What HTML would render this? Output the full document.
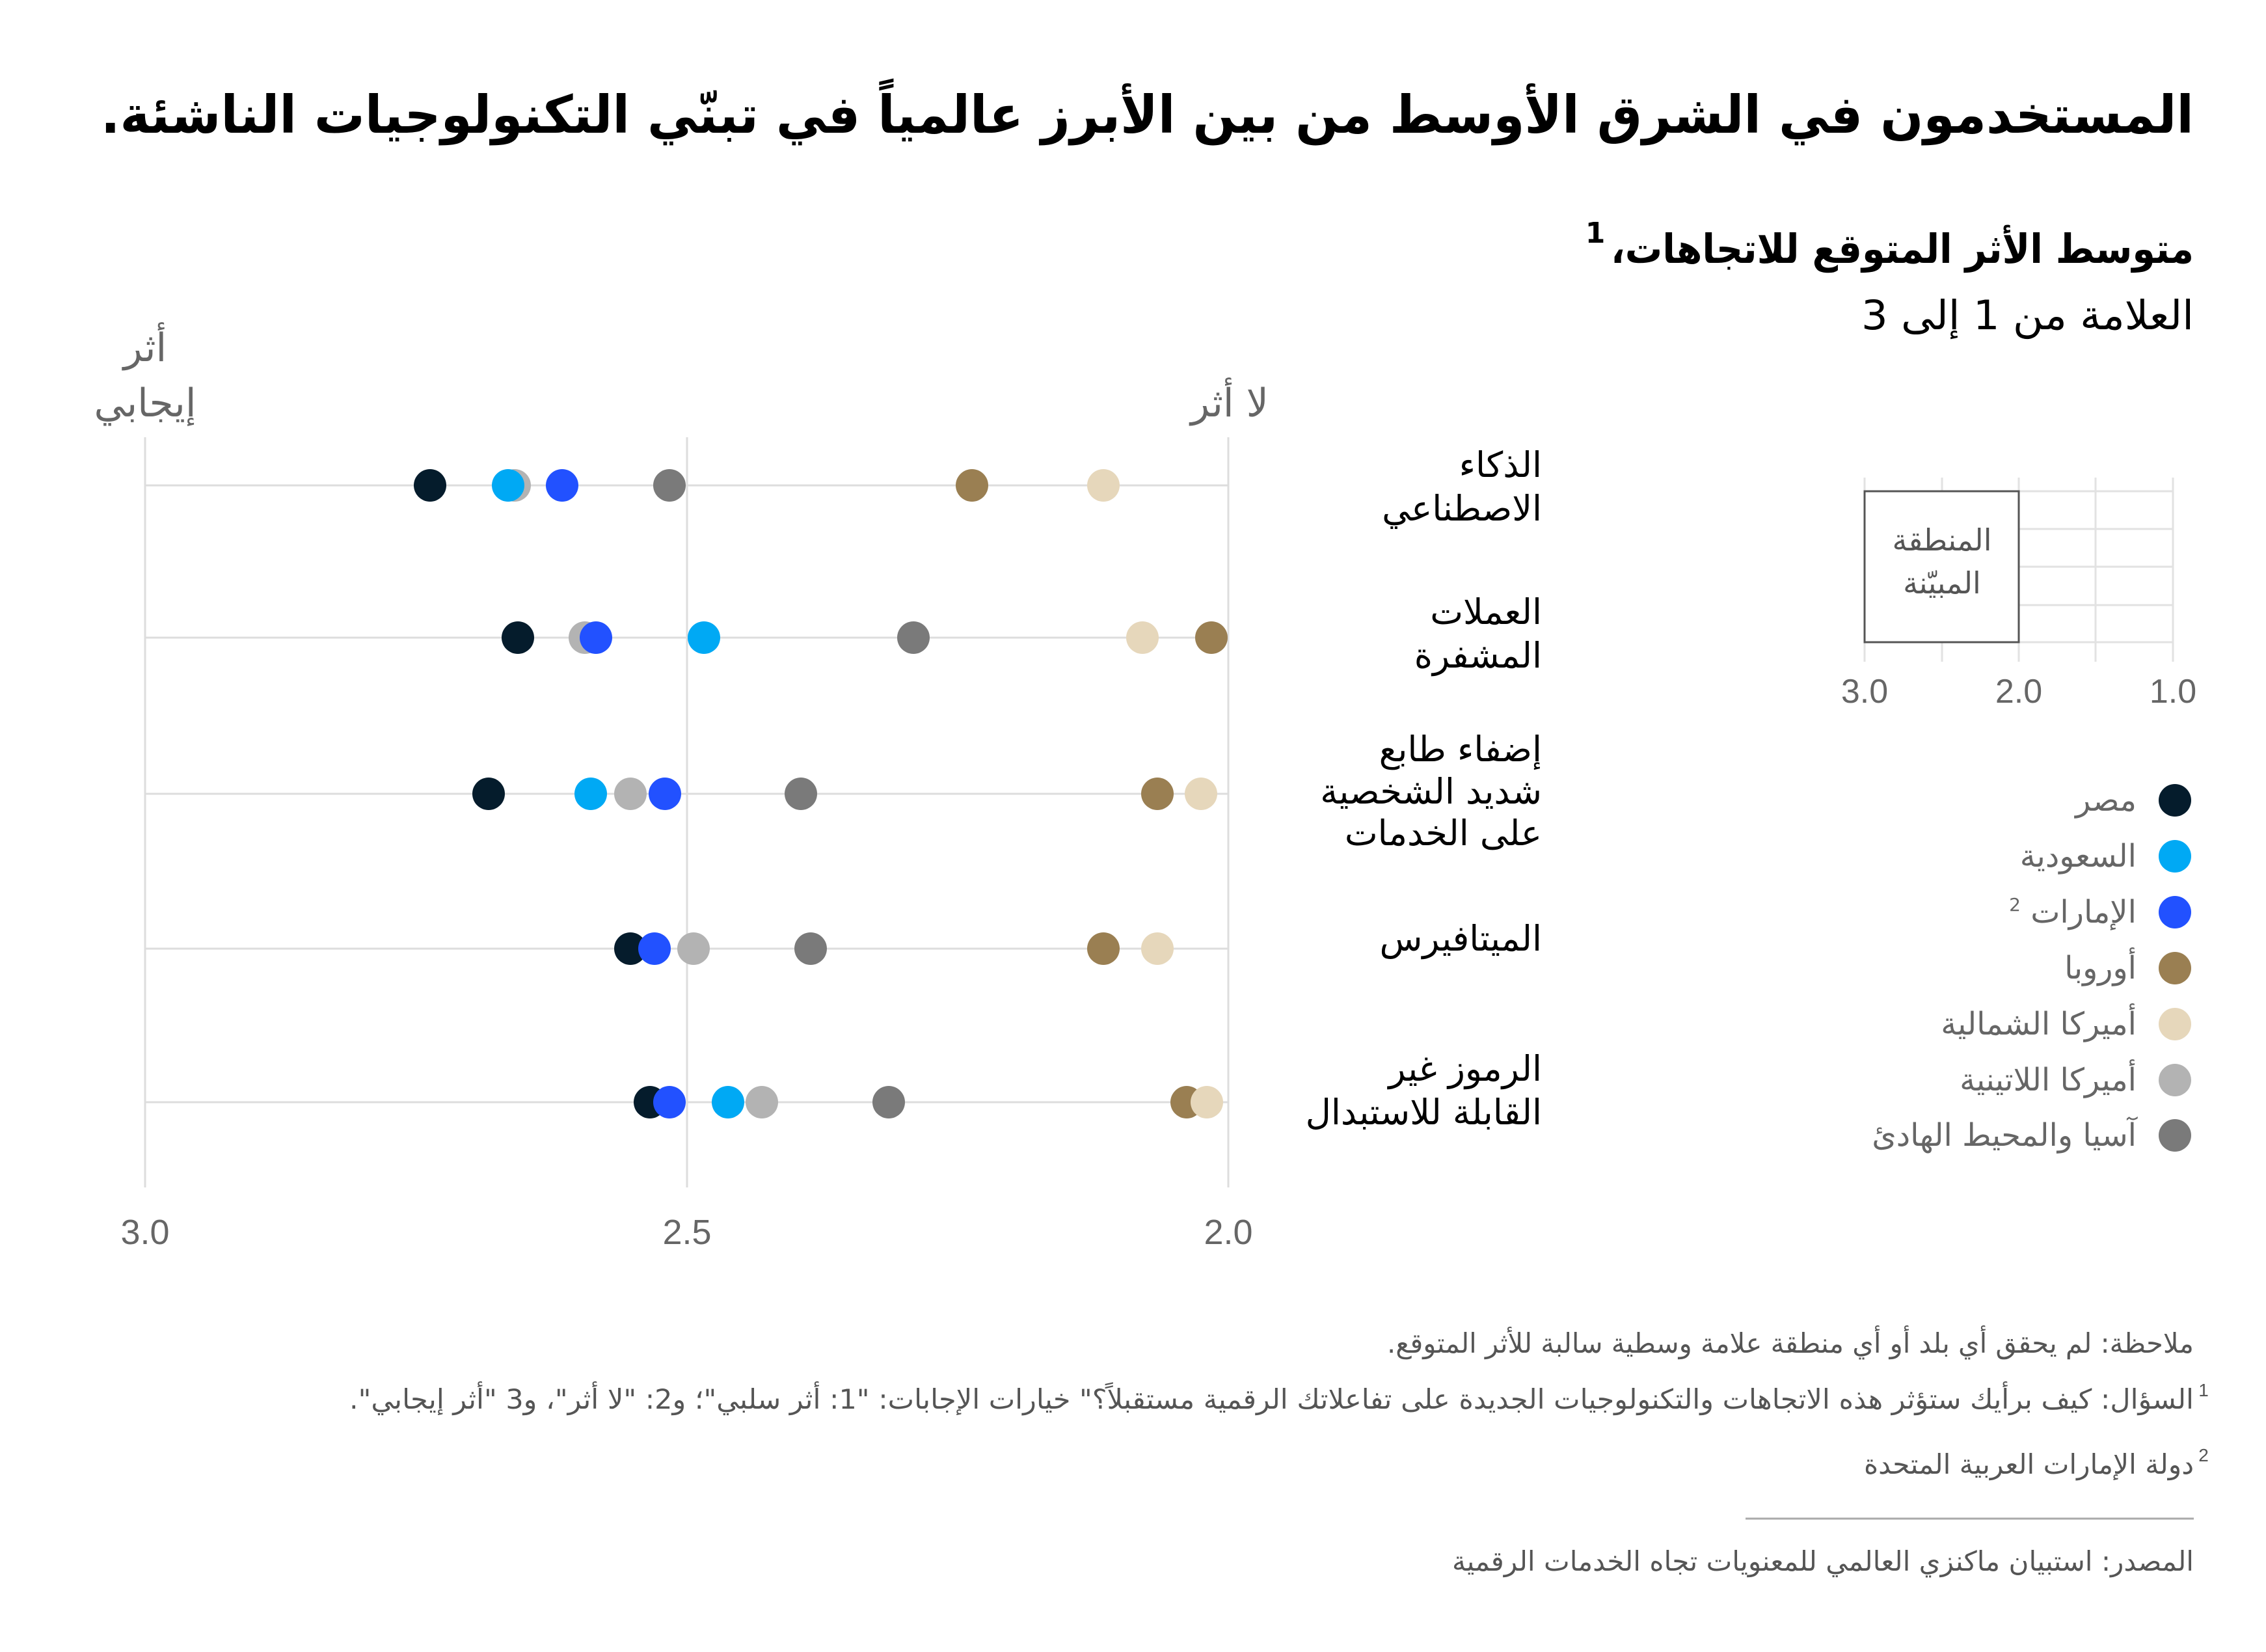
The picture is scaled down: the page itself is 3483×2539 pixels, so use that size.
<!DOCTYPE html>
<html><head><meta charset="utf-8">
<style>
body{margin:0;width:3483px;height:2539px;background:#fff;overflow:hidden}
</style></head><body>
<svg style="position:absolute;left:0;top:0" width="3483" height="2539" font-family="DejaVu Sans, Liberation Sans, sans-serif">
<text x="3372" y="204" direction="rtl" text-anchor="start" font-size="80" font-weight="bold" textLength="3217" lengthAdjust="spacingAndGlyphs">المستخدمون في الشرق الأوسط من بين الأبرز عالمياً في تبنّي التكنولوجيات الناشئة.</text>
<text x="3372" y="404" direction="rtl" text-anchor="start" font-size="62" font-weight="bold" textLength="896" lengthAdjust="spacingAndGlyphs">متوسط الأثر المتوقع للاتجاهات،</text>
<text x="2452" y="373" text-anchor="middle" font-size="44" font-weight="bold">1</text>
<text x="3372" y="506" direction="rtl" text-anchor="start" font-size="62" textLength="511" lengthAdjust="spacingAndGlyphs">العلامة من 1 إلى 3</text>

<g stroke="#ddd" stroke-width="3">
<line x1="223" y1="672" x2="223" y2="1825"/><line x1="1056" y1="672" x2="1056" y2="1825"/><line x1="1888" y1="672" x2="1888" y2="1825"/>
<line x1="223" y1="746" x2="1888" y2="746"/><line x1="223" y1="980" x2="1888" y2="980"/><line x1="223" y1="1220" x2="1888" y2="1220"/><line x1="223" y1="1458" x2="1888" y2="1458"/><line x1="223" y1="1694" x2="1888" y2="1694"/>
</g>
<g font-size="54" fill="#666" text-anchor="middle" font-family="Liberation Sans, sans-serif">
<text x="223" y="1912">3.0</text><text x="1056" y="1912">2.5</text><text x="1888" y="1912">2.0</text>
</g>
<g font-size="60" fill="#666" text-anchor="middle">
<text x="223" y="555" direction="rtl">أثر</text>
<text x="223" y="640" direction="rtl">إيجابي</text>
<text x="1890" y="640" direction="rtl">لا أثر</text>
</g>
<g>
<circle cx="1029" cy="746" r="25" fill="#7a7a7a"/><circle cx="1696" cy="746" r="25" fill="#e6d7bb"/><circle cx="1494" cy="746" r="25" fill="#9a7f52"/><circle cx="791" cy="746" r="25" fill="#b3b3b3"/><circle cx="781" cy="746" r="25" fill="#00a9f4"/><circle cx="864" cy="746" r="25" fill="#2251ff"/><circle cx="661" cy="746" r="25" fill="#051c2c"/>
<circle cx="1404" cy="980" r="25" fill="#7a7a7a"/><circle cx="1756" cy="980" r="25" fill="#e6d7bb"/><circle cx="1862" cy="980" r="25" fill="#9a7f52"/><circle cx="899" cy="980" r="25" fill="#b3b3b3"/><circle cx="916" cy="980" r="25" fill="#2251ff"/><circle cx="1082" cy="980" r="25" fill="#00a9f4"/><circle cx="796" cy="980" r="25" fill="#051c2c"/>
<circle cx="1231" cy="1220" r="25" fill="#7a7a7a"/><circle cx="1846" cy="1220" r="25" fill="#e6d7bb"/><circle cx="1779" cy="1220" r="25" fill="#9a7f52"/><circle cx="969" cy="1220" r="25" fill="#b3b3b3"/><circle cx="908" cy="1220" r="25" fill="#00a9f4"/><circle cx="1022" cy="1220" r="25" fill="#2251ff"/><circle cx="751" cy="1220" r="25" fill="#051c2c"/>
<circle cx="1246" cy="1458" r="25" fill="#7a7a7a"/><circle cx="1779" cy="1458" r="25" fill="#e6d7bb"/><circle cx="1696" cy="1458" r="25" fill="#9a7f52"/><circle cx="1066" cy="1458" r="25" fill="#b3b3b3"/><circle cx="969" cy="1458" r="25" fill="#051c2c"/><circle cx="1006" cy="1458" r="25" fill="#2251ff"/>
<circle cx="1366" cy="1694" r="25" fill="#7a7a7a"/><circle cx="1824" cy="1694" r="25" fill="#9a7f52"/><circle cx="1855" cy="1694" r="25" fill="#e6d7bb"/><circle cx="1171" cy="1694" r="25" fill="#b3b3b3"/><circle cx="1119" cy="1694" r="25" fill="#00a9f4"/><circle cx="999" cy="1694" r="25" fill="#051c2c"/><circle cx="1029" cy="1694" r="25" fill="#2251ff"/>
</g>
<g font-size="54" direction="rtl" text-anchor="start">
<text x="2370" y="733">الذكاء</text><text x="2370" y="800">الاصطناعي</text>
<text x="2370" y="959">العملات</text><text x="2370" y="1026">المشفرة</text>
<text x="2370" y="1170">إضفاء طابع</text><text x="2370" y="1235">شديد الشخصية</text><text x="2370" y="1299">على الخدمات</text>
<text x="2370" y="1461">الميتافيرس</text>
<text x="2370" y="1661">الرموز غير</text><text x="2370" y="1728">القابلة للاستبدال</text>
</g>
<g stroke="#e2e2e2" stroke-width="3">
<line x1="2866" y1="734" x2="2866" y2="1017"/><line x1="2985" y1="734" x2="2985" y2="1017"/><line x1="3103" y1="734" x2="3103" y2="1017"/><line x1="3221" y1="734" x2="3221" y2="1017"/><line x1="3340" y1="734" x2="3340" y2="1017"/>
<line x1="2866" y1="755" x2="3340" y2="755"/><line x1="2866" y1="813" x2="3340" y2="813"/><line x1="2866" y1="871" x2="3340" y2="871"/><line x1="2866" y1="930" x2="3340" y2="930"/><line x1="2866" y1="987" x2="3340" y2="987"/>
</g>
<rect x="2866" y="755" width="237" height="232" fill="#fff" stroke="#555" stroke-width="3"/>
<g font-size="46" fill="#555" text-anchor="middle">
<text x="2985" y="846" direction="rtl">المنطقة</text>
<text x="2985" y="912" direction="rtl">المبيّنة</text>
</g>
<g font-size="52" fill="#666" text-anchor="middle" font-family="Liberation Sans, sans-serif">
<text x="2866" y="1080">3.0</text><text x="3103" y="1080">2.0</text><text x="3340" y="1080">1.0</text>
</g>
<g>
<circle cx="3343" cy="1230" r="25" fill="#051c2c"/><circle cx="3343" cy="1316" r="25" fill="#00a9f4"/><circle cx="3343" cy="1402" r="25" fill="#2251ff"/><circle cx="3343" cy="1488" r="25" fill="#9a7f52"/><circle cx="3343" cy="1574" r="25" fill="#e6d7bb"/><circle cx="3343" cy="1660" r="25" fill="#b3b3b3"/><circle cx="3343" cy="1745" r="25" fill="#7a7a7a"/>
</g>
<g font-size="48" fill="#666" text-anchor="start" direction="rtl">
<text x="3284" y="1246">مصر</text>
<text x="3284" y="1332">السعودية</text>
<text x="3284" y="1418">الإمارات <tspan font-size="28" dy="-18">2</tspan></text>
<text x="3284" y="1504">أوروبا</text>
<text x="3284" y="1590">أميركا الشمالية</text>
<text x="3284" y="1676">أميركا اللاتينية</text>
<text x="3284" y="1761">آسيا والمحيط الهادئ</text>
</g>
<g font-size="42" fill="#555" direction="rtl" text-anchor="start">
<text x="3372" y="2079" textLength="1240" lengthAdjust="spacingAndGlyphs">ملاحظة: لم يحقق أي بلد أو أي منطقة علامة وسطية سالبة للأثر المتوقع.</text>
<text x="3372" y="2165" textLength="2835" lengthAdjust="spacingAndGlyphs">السؤال: كيف برأيك ستؤثر هذه الاتجاهات والتكنولوجيات الجديدة على تفاعلاتك الرقمية مستقبلاً؟" خيارات الإجابات: "1: أثر سلبي"؛ و2: "لا أثر"، و3 "أثر إيجابي".</text>
<text x="3372" y="2265" textLength="507" lengthAdjust="spacingAndGlyphs">دولة الإمارات العربية المتحدة</text>
<text x="3372" y="2414" textLength="1140" lengthAdjust="spacingAndGlyphs">المصدر: استبيان ماكنزي العالمي للمعنويات تجاه الخدمات الرقمية</text>
</g>
<g font-size="28" fill="#555" text-anchor="middle" font-family="Liberation Sans, sans-serif">
<text x="3387" y="2146">1</text><text x="3387" y="2246">2</text>
</g>
<line x1="2683" y1="2334" x2="3372" y2="2334" stroke="#aaa" stroke-width="3"/>
</svg>
</body></html>
